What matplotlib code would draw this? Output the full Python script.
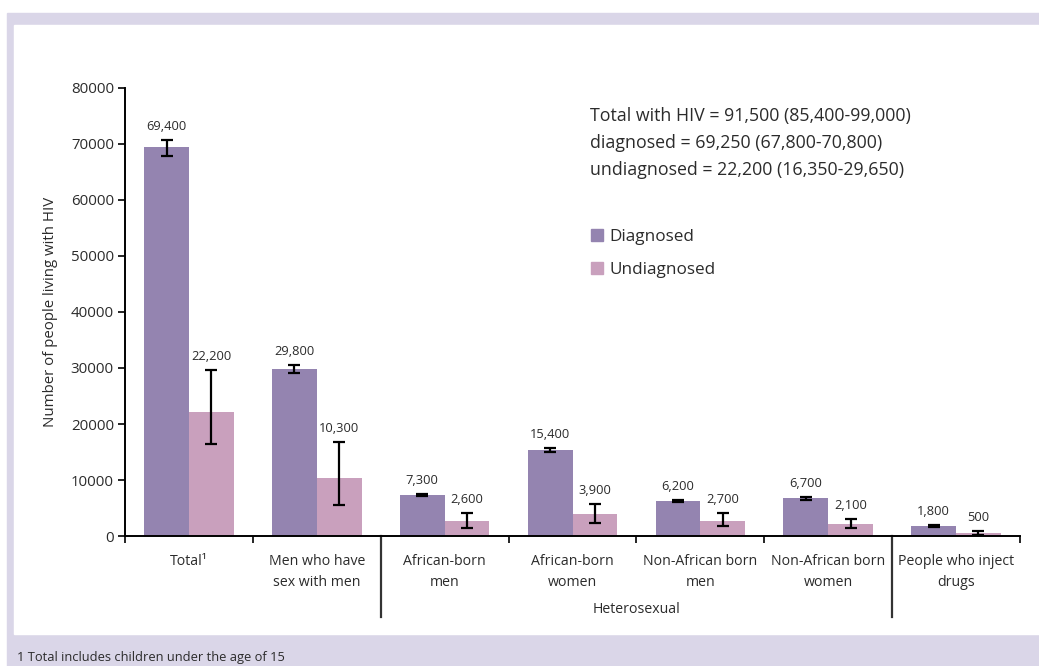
"""Estimated number of people living with HIV, diagnosed and undiagnosed, by exposure group."""

import matplotlib

matplotlib.use("Agg")
import matplotlib.pyplot as plt
import numpy as np
from matplotlib.patches import Patch, Rectangle

plt.rcParams["font.family"] = ["Open Sans", "DejaVu Sans"]

GROUPS = [
    "Total¹",
    "Men who have\nsex with men",
    "African-born\nmen",
    "African-born\nwomen",
    "Non-African born\nmen",
    "Non-African born\nwomen",
    "People who inject\ndrugs",
]
DIAGNOSED = [69400, 29800, 7300, 15400, 6200, 6700, 1800]
DIAGNOSED_LOW = [67800, 29100, 7100, 15000, 6000, 6500, 1600]
DIAGNOSED_HIGH = [70800, 30500, 7500, 15800, 6400, 6900, 2000]
UNDIAGNOSED = [22200, 10300, 2600, 3900, 2700, 2100, 500]
UNDIAGNOSED_LOW = [16350, 5500, 1400, 2300, 1800, 1400, 200]
UNDIAGNOSED_HIGH = [29650, 16800, 4100, 5700, 4100, 3000, 900]
SUMMARY_LINES = [
    "Total with HIV = 91,500 (85,400-99,000)",
    "diagnosed = 69,250 (67,800-70,800)",
    "undiagnosed = 22,200 (16,350-29,650)",
]
FOOTNOTE = "1 Total includes children under the age of 15"

DIAG_COLOR = "#9484b0"
UNDIAG_COLOR = "#c9a0bd"
FRAME_COLOR = "#dad6e8"
TEXT_COLOR = "#2b2b2b"

W, H = 1039, 666
fig = plt.figure(figsize=(W / 100, H / 100), dpi=100)

# lavender frame around the white panel
fig.patches.append(Rectangle((7 / W, 0), 1 - 7 / W, 1 - 13 / H, transform=fig.transFigure,
                             color=FRAME_COLOR, zorder=-3))
fig.patches.append(Rectangle((14 / W, 32 / H), 1 - 14 / W, 1 - 25 / H - 32 / H,
                             transform=fig.transFigure, color="white", zorder=-2))

ax = fig.add_axes([125 / W, 130 / H, 895 / W, 448 / H])
ax.patch.set_alpha(0)

x = np.arange(len(GROUPS))
width = 0.35
diag = np.array(DIAGNOSED)
undiag = np.array(UNDIAGNOSED)
diag_err = [diag - np.array(DIAGNOSED_LOW), np.array(DIAGNOSED_HIGH) - diag]
undiag_err = [undiag - np.array(UNDIAGNOSED_LOW), np.array(UNDIAGNOSED_HIGH) - undiag]

err_kw = dict(ecolor="black", elinewidth=1.6, capsize=4.5, capthick=1.6)
ax.bar(x - width / 2, diag, width, color=DIAG_COLOR, yerr=diag_err, error_kw=err_kw,
       label="Diagnosed", zorder=2)
ax.bar(x + width / 2, undiag, width, color=UNDIAG_COLOR, yerr=undiag_err, error_kw=err_kw,
       label="Undiagnosed", zorder=2)

for xi, value, top in zip(x - width / 2, DIAGNOSED, DIAGNOSED_HIGH):
    ax.annotate(f"{value:,}", (xi, top), xytext=(0, 5), textcoords="offset points",
                ha="center", va="bottom", fontsize=9.3, color=TEXT_COLOR)
for xi, value, top in zip(x + width / 2, UNDIAGNOSED, UNDIAGNOSED_HIGH):
    ax.annotate(f"{value:,}", (xi, top), xytext=(0, 5), textcoords="offset points",
                ha="center", va="bottom", fontsize=9.3, color=TEXT_COLOR)

ax.set_xlim(-0.5, len(GROUPS) - 0.5)
ax.set_ylim(0, 80000)
ax.set_yticks(np.arange(0, 80001, 10000))
ax.tick_params(axis="y", labelsize=10.8, labelcolor=TEXT_COLOR, length=5, width=1.2, pad=3)
ax.set_xticks(np.arange(-0.5, len(GROUPS), 1.0))
ax.tick_params(axis="x", length=5, width=1.2, labelbottom=False)
for xi, name in zip(x, GROUPS):
    ax.text(xi, -3300, name, ha="center", va="top", fontsize=10.2, color=TEXT_COLOR,
            linespacing=1.5)

for side in ("top", "right"):
    ax.spines[side].set_visible(False)
for side in ("left", "bottom"):
    ax.spines[side].set_linewidth(1.4)

ax.set_ylabel("Number of people living with HIV", fontsize=10.8, color=TEXT_COLOR, labelpad=9)

# separators below the axis marking the heterosexual groups
for xs in (1.5, 5.5):
    ax.plot([xs, xs], [0, -14500], color="#333333", lw=1.6, clip_on=False)
ax.text(3.5, -13100, "Heterosexual", ha="center", va="center", fontsize=10.2, color=TEXT_COLOR)

for i, line in enumerate(SUMMARY_LINES):
    fig.text(590 / W, 1 - (116 + 27 * i) / H, line, ha="left", va="center",
             fontsize=12.8, color=TEXT_COLOR)

handles = [Patch(color=DIAG_COLOR), Patch(color=UNDIAG_COLOR)]
fig.legend(handles, ["Diagnosed", "Undiagnosed"], loc="upper left",
           bbox_to_anchor=(576 / W, 1 - 214 / H), frameon=False, fontsize=12.3,
           handlelength=0.7, handleheight=0.7, handletextpad=0.35, labelspacing=0.95,
           labelcolor=TEXT_COLOR)

fig.text(17 / W, 1 - 658 / H, FOOTNOTE, ha="left", va="center", fontsize=9.3, color=TEXT_COLOR)

fig.savefig("out.png", dpi=100)
